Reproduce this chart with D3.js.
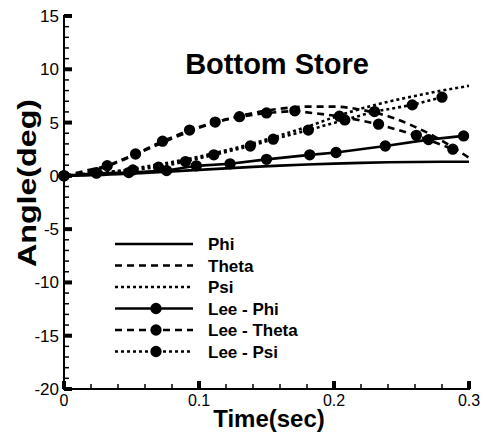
<!DOCTYPE html>
<html>
<head>
<meta charset="utf-8">
<script src="https://cdn.jsdelivr.net/npm/d3@7"></script>
<style>
  body { margin: 0; background: #fff; }
  text { font-family: "Liberation Sans", Arial, sans-serif; fill: #000; }
</style>
</head>
<body>
<div id="chart"></div>
<script>
// time grid for the simulated curves (sec)
const timeGrid = [0, 0.02, 0.04, 0.06, 0.08, 0.10, 0.12, 0.14, 0.16, 0.18, 0.20, 0.22, 0.24, 0.26, 0.28, 0.30];
const phiVals   = [0, 0.05, 0.15, 0.28, 0.42, 0.56, 0.70, 0.84, 0.96, 1.06, 1.15, 1.22, 1.27, 1.30, 1.32, 1.33];
const thetaVals = [0, 0.4, 1.3, 2.4, 3.5, 4.5, 5.3, 5.9, 6.3, 6.5, 6.5, 6.2, 5.6, 4.6, 3.3, 1.7];
const psiVals   = [0, 0.15, 0.45, 0.85, 1.3, 1.8, 2.4, 3.05, 3.8, 4.6, 5.5, 6.3, 6.95, 7.5, 8.0, 8.45];

const leePhiT   = [0, 0.024, 0.048, 0.076, 0.098, 0.123, 0.150, 0.182, 0.2015, 0.238, 0.270, 0.296];
const leePhiV   = [0, 0.25, 0.31, 0.50, 0.94, 1.13, 1.55, 1.97, 2.19, 2.80, 3.40, 3.75];
const leeThetaT = [0, 0.032, 0.053, 0.073, 0.093, 0.112, 0.130, 0.150, 0.171, 0.204, 0.233, 0.261, 0.288];
const leeThetaV = [0, 0.95, 2.05, 3.25, 4.3, 5.05, 5.55, 5.9, 6.1, 5.6, 4.85, 3.8, 2.5];
const leePsiT   = [0, 0.024, 0.051, 0.070, 0.090, 0.111, 0.138, 0.155, 0.181, 0.208, 0.230, 0.258, 0.280];
const leePsiV   = [0, 0.31, 0.56, 0.82, 1.34, 1.97, 2.80, 3.44, 4.30, 5.25, 6.03, 6.66, 7.38];

const xMajor = [0, 0.1, 0.2, 0.3];
const yMajor = [-20, -15, -10, -5, 0, 5, 10, 15];
const legendLabels = ["Phi", "Theta", "Psi", "Lee - Phi", "Lee - Theta", "Lee - Psi"];

const W = 487, H = 433;
const svg = d3.select("#chart").append("svg").attr("width", W).attr("height", H);

const x = d3.scaleLinear().domain([0, 0.3]).range([64, 469]);
const y = d3.scaleLinear().domain([-20, 15]).range([389, 16]);

const pairs = (ts, vs) => ts.map((t, i) => [t, vs[i]]);

let series = [
    {name: legendLabels[0], pts: pairs(timeGrid, phiVals), dash: null, marker: false, smooth: true},
    {name: legendLabels[1], pts: pairs(timeGrid, thetaVals), dash: "7,5", marker: false, smooth: true},
    {name: legendLabels[2], pts: pairs(timeGrid, psiVals), dash: "3,3", marker: false, smooth: true},
    {name: legendLabels[3], pts: pairs(leePhiT, leePhiV), dash: null, marker: true},
    {name: legendLabels[4], pts: pairs(leeThetaT, leeThetaV), dash: "7,5", marker: true},
    {name: legendLabels[5], pts: pairs(leePsiT, leePsiV), dash: "3,3", marker: true},
];

const dot = d3.symbol().type(d3.symbolCircle).size(100);

// axes: spines with inward ticks
const axes = svg.append("g");
axes.append("line").attr("x1", x(0)).attr("x2", x(0)).attr("y1", y(15) - 1).attr("y2", y(-20) + 1)
    .attr("stroke", "#000").attr("stroke-width", 2);
axes.append("line").attr("x1", x(0) - 1).attr("x2", x(0.3) + 1).attr("y1", y(-20)).attr("y2", y(-20))
    .attr("stroke", "#000").attr("stroke-width", 2);

const yMinor = d3.range(-20, 15.01, 1).filter(v => v % 5 != 0);
axes.selectAll(".ymin").data(yMinor).enter().append("line")
    .attr("x1", x(0)).attr("x2", x(0) + 5).attr("y1", d => y(d)).attr("y2", d => y(d))
    .attr("stroke", "#000").attr("stroke-width", 1.5);
axes.selectAll(".ymaj").data(yMajor).enter().append("rect")
    .attr("x", x(0)).attr("y", d => y(d) - 2).attr("width", 8).attr("height", 4).attr("fill", "#000");
axes.selectAll(".ylab").data(yMajor).enter().append("text")
    .attr("x", 59).attr("y", d => y(d) + 6).attr("text-anchor", "end")
    .style("font-size", "17px").text(d => d);

const xMinor = d3.range(0, 0.301, 0.02).filter(v => Math.abs(v * 10 - Math.round(v * 10)) > 1e-6);
axes.selectAll(".xmin").data(xMinor).enter().append("line")
    .attr("x1", d => x(d)).attr("x2", d => x(d)).attr("y1", y(-20)).attr("y2", y(-20) - 5)
    .attr("stroke", "#000").attr("stroke-width", 1.5);
axes.selectAll(".xmaj").data(xMajor).enter().append("rect")
    .attr("x", d => x(d) - 2).attr("y", y(-20) - 8).attr("width", 4).attr("height", 8).attr("fill", "#000");
axes.selectAll(".xlab").data(xMajor).enter().append("text")
    .attr("x", d => x(d)).attr("y", 406).attr("text-anchor", "middle")
    .style("font-size", "16px").text(d => d);

// titles
svg.append("text").attr("x", 277).attr("y", 74).attr("text-anchor", "middle")
    .style("font-size", "29px").style("font-weight", "bold").text("Bottom Store");
svg.append("text").attr("x", 269).attr("y", 427).attr("text-anchor", "middle")
    .style("font-size", "24px").style("font-weight", "bold").text("Time(sec)");
svg.append("text").attr("transform", "translate(36,183) rotate(-90)").attr("text-anchor", "middle")
    .attr("textLength", 168).attr("lengthAdjust", "spacingAndGlyphs")
    .style("font-size", "25px").style("font-weight", "bold").text("Angle(deg)");

// curves
const plot = svg.append("g");
series.forEach(s => {
    let line = d3.line().x(d => x(d[0])).y(d => y(d[1]))
        .curve(s.smooth ? d3.curveMonotoneX : d3.curveLinear);
    plot.append("path").datum(s.pts).attr("d", line)
        .attr("fill", "none").attr("stroke", "#000").attr("stroke-width", 2.6)
        .attr("stroke-dasharray", s.dash);
    if (s.marker) {
        plot.selectAll(null).data(s.pts).enter().append("path")
            .attr("d", dot)
            .attr("transform", d => `translate(${x(d[0])},${y(d[1])})`)
            .attr("fill", "#000");
    }
});

// legend
const legend = svg.append("g");
series.forEach((s, i) => {
    let ry = 244 + i * 21.5;
    legend.append("line").attr("x1", 115).attr("x2", 193).attr("y1", ry).attr("y2", ry)
        .attr("stroke", "#000").attr("stroke-width", 2.6).attr("stroke-dasharray", s.dash);
    if (s.marker) {
        legend.append("path").attr("d", dot)
            .attr("transform", `translate(156,${ry})`).attr("fill", "#000");
    }
    legend.append("text").attr("x", 208).attr("y", ry + 6)
        .style("font-size", "17px").style("font-weight", "bold").text(s.name);
});
</script>
</body>
</html>
